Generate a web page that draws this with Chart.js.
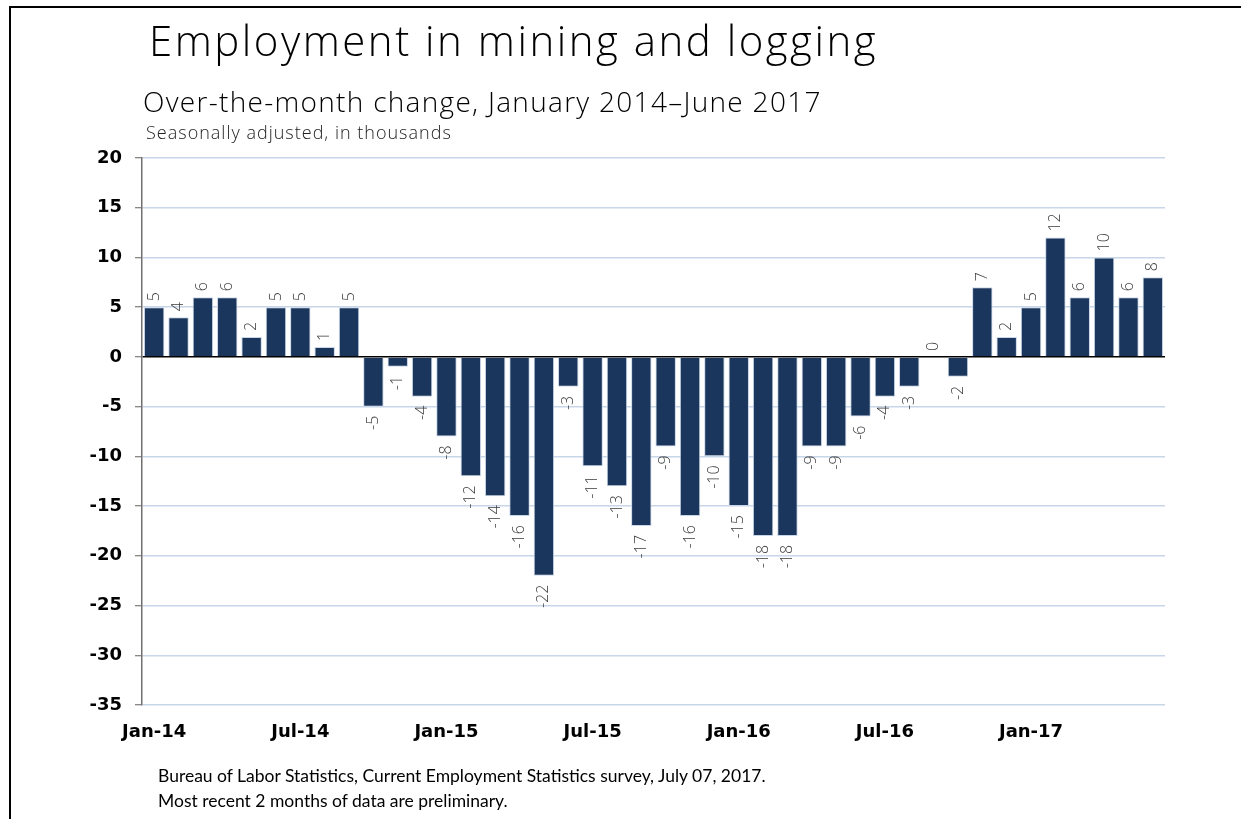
<!DOCTYPE html>
<html>
<head>
<meta charset="utf-8">
<script src="https://cdn.jsdelivr.net/npm/chart.js@4"></script>
<style>
  html, body { margin: 0; padding: 0; background: #fff; }
  #wrap { position: relative; width: 1241px; height: 819px; overflow: hidden; }
  #frame { position: absolute; left: 9px; top: 6px; width: 1240px; height: 820px;
           border-left: 2px solid #000; border-top: 2px solid #000; }
  canvas { position: absolute; left: 0; top: 0; }
  .txt { position: absolute; white-space: nowrap; color: #000; }
  #title { left: 149px; top: 11px; font: 300 42px "Open Sans", "Lato", sans-serif; letter-spacing: 2.5px; }
  #sub { left: 143px; top: 82px; font: 300 28px "Open Sans", "Lato", sans-serif; letter-spacing: 1.3px; }
  #note { left: 146px; top: 120px; font: 300 18px "Open Sans", "Lato", sans-serif; letter-spacing: 1px; color: #222; }
  .foot { left: 158px; font: 17.5px "Lato", "Open Sans", sans-serif; }
</style>
</head>
<body>
<div id="wrap">
  <div id="frame"></div>
  <canvas id="jobsChart" width="1241" height="819"></canvas>
  <div class="txt" id="title">Employment in mining and logging</div>
  <div class="txt" id="sub">Over-the-month change, January 2014–June 2017</div>
  <div class="txt" id="note">Seasonally adjusted, in thousands</div>
  <div class="txt foot" style="top:765px">Bureau of Labor Statistics, Current Employment Statistics survey, July 07, 2017.</div>
  <div class="txt foot" style="top:790px">Most recent 2 months of data are preliminary.</div>
</div>
<script>
const months = [
    "Jan-14", "Feb-14", "Mar-14", "Apr-14", "May-14", "Jun-14",
    "Jul-14", "Aug-14", "Sep-14", "Oct-14", "Nov-14", "Dec-14",
    "Jan-15", "Feb-15", "Mar-15", "Apr-15", "May-15", "Jun-15",
    "Jul-15", "Aug-15", "Sep-15", "Oct-15", "Nov-15", "Dec-15",
    "Jan-16", "Feb-16", "Mar-16", "Apr-16", "May-16", "Jun-16",
    "Jul-16", "Aug-16", "Sep-16", "Oct-16", "Nov-16", "Dec-16",
    "Jan-17", "Feb-17", "Mar-17", "Apr-17", "May-17", "Jun-17",
];

const changes = [
    5, 4, 6, 6, 2, 5, 5, 1, 5, -5, -1, -4,
    -8, -12, -14, -16, -22, -3, -11, -13, -17, -9, -16, -10,
    -15, -18, -18, -9, -9, -6, -4, -3, 0, -2, 7, 2,
    5, 12, 6, 10, 6, 8,
];

// only every sixth month gets a label on the x axis
const shownEvery = 6;

const yMin = -35;
const yMax = 20;
const yStep = 5;

// vertical value labels above / below each bar
const barLabels = {
    id: "barLabels",
    afterDatasetsDraw(chart) {
        const ctx = chart.ctx;
        const meta = chart.getDatasetMeta(0);
        const data = chart.data.datasets[0].data;
        ctx.save();
        ctx.font = "300 16px 'Open Sans', 'DejaVu Sans', sans-serif";
        ctx.fillStyle = "#3a3a3a";
        ctx.textBaseline = "middle";
        meta.data.forEach((bar, i) => {
            const v = data[i];
            ctx.save();
            ctx.translate(bar.x, bar.y);
            ctx.rotate(-Math.PI / 2);
            if (v >= 0) {
                ctx.textAlign = "left";
                ctx.fillText(String(v), 6, 0);
            } else {
                ctx.textAlign = "right";
                ctx.fillText(String(v), -9, 0);
            }
            ctx.restore();
        });
        ctx.restore();
    },
};

new Chart(document.getElementById("jobsChart"), {
    type: "bar",
    data: {
        labels: months,
        datasets: [
            {
                data: changes,
                backgroundColor: "#1b365d",
                borderColor: "#c9d6e8",
                borderWidth: 1,
                barPercentage: 0.84,
                categoryPercentage: 1,
            },
        ],
    },
    options: {
        responsive: false,
        animation: false,
        layout: {
            padding: { left: 0, right: 76, top: 158, bottom: 74 },
        },
        plugins: {
            legend: { display: false },
            tooltip: { enabled: false },
        },
        scales: {
            x: {
                grid: { display: false, drawTicks: false, tickLength: 0 },
                border: { display: false },
                ticks: {
                    autoSkip: false,
                    maxRotation: 0,
                    padding: 17,
                    color: "#000",
                    font: { family: "'DejaVu Sans', Verdana, sans-serif", size: 18, weight: "bold" },
                    callback: function (value, index) {
                        return index % shownEvery === 0 ? months[index] : "";
                    },
                },
                afterFit: (scale) => {
                    scale.height = 40;
                },
            },
            y: {
                min: yMin,
                max: yMax,
                grid: {
                    color: (c) => (c.tick && c.tick.value === 0 ? "#000" : "#c8d6ea"),
                    lineWidth: 1.5,
                    tickColor: "#606060",
                    tickLength: 7,
                    tickWidth: 1,
                },
                border: { color: "#707070", width: 1.5 },
                ticks: {
                    stepSize: yStep,
                    padding: 13,
                    color: "#000",
                    font: { family: "'DejaVu Sans', Verdana, sans-serif", size: 18, weight: "bold" },
                },
                afterFit: (scale) => {
                    scale.width = 142;
                },
            },
        },
    },
    plugins: [barLabels],
});
</script>
</body>
</html>
